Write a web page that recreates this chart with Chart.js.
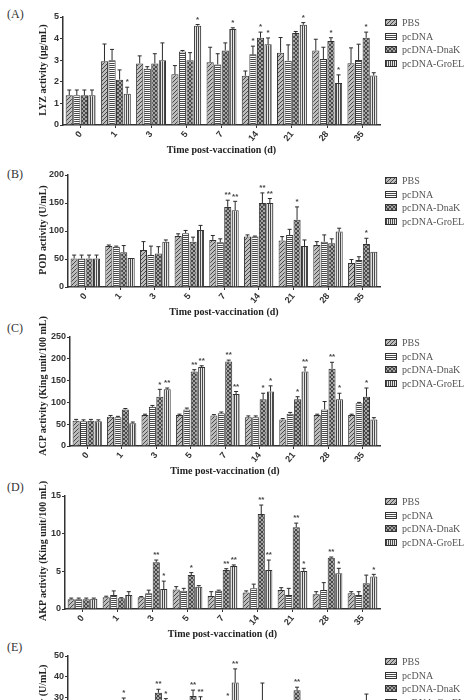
<!DOCTYPE html>
<html>
<head>
<meta charset="utf-8">
<script src="https://cdn.jsdelivr.net/npm/chart.js@4.4.1/dist/chart.umd.min.js"></script>
<style>
  html, body { margin: 0; padding: 0; background: #fff; width: 472px; height: 700px; overflow: hidden; }
  .panel { position: absolute; left: 0; width: 472px; }
  .tag { position: absolute; left: 7px; font: 12px "Liberation Serif", serif; color: #333; line-height: 14px; }
  .ytitle { position: absolute; left: 43px; white-space: nowrap; font: bold 10px "Liberation Serif", serif; color: #222;
            transform: translate(-50%, -50%) rotate(-90deg); line-height: 12px; }
</style>
</head>
<body>
<div class="tag" style="top:7px">(A)</div>
<div class="tag" style="top:167px">(B)</div>
<div class="tag" style="top:321px">(C)</div>
<div class="tag" style="top:480px">(D)</div>
<div class="tag" style="top:640px">(E)</div>

<div class="panel" style="top:7px;height:153px"><canvas id="chartA"></canvas></div>
<div class="panel" style="top:165px;height:157px"><canvas id="chartB"></canvas></div>
<div class="panel" style="top:327px;height:154px"><canvas id="chartC"></canvas></div>
<div class="panel" style="top:486px;height:158px"><canvas id="chartD"></canvas></div>
<div class="panel" style="top:646px;height:149px"><canvas id="chartE"></canvas></div>

<div class="ytitle" style="top:70px">LYZ activity (μg/mL)</div>
<div class="ytitle" style="top:230px">POD activity (U/mL)</div>
<div class="ytitle" style="top:386px">ACP activity (King unit/100 mL)</div>
<div class="ytitle" style="top:551px">AKP activity (King unit/100 mL)</div>
<div class="ytitle" style="top:709px">SOD activity (U/mL)</div>

<script>
// days after vaccination and the four groups
var days = ['0', '1', '3', '5', '7', '14', '21', '28', '35'];
var groups = ['PBS', 'pcDNA', 'pcDNA-DnaK', 'pcDNA-GroEL'];

// (A) LYZ: mean and mean+SD, rows = groups
var lyzMean = [
  [1.38, 2.95, 2.85, 2.35, 2.90, 2.28, 3.35, 3.45, 2.86],
  [1.38, 3.00, 2.60, 3.40, 2.80, 3.27, 2.98, 3.05, 3.01],
  [1.38, 2.10, 2.85, 3.00, 3.45, 4.04, 4.26, 3.89, 4.04],
  [1.38, 1.45, 3.00, 4.60, 4.45, 3.74, 4.64, 1.95, 2.29]
];
var lyzTop = [
  [1.62, 3.75, 3.20, 2.75, 3.60, 2.50, 4.05, 3.97, 3.57],
  [1.62, 3.50, 2.70, 3.45, 3.30, 3.65, 3.71, 3.60, 3.74],
  [1.62, 2.55, 3.30, 3.35, 3.80, 4.30, 4.33, 4.04, 4.30],
  [1.62, 1.75, 3.80, 4.65, 4.50, 4.03, 4.74, 2.32, 2.42]
];
var lyzSig = [
  ['', '', '', '', '', '', '', '', ''],
  ['', '', '', '', '', '*', '', '', ''],
  ['', '', '', '', '', '*', '', '*', '*'],
  ['', '*', '', '*', '*', '*', '*', '*', '']
];

// (B) POD
var podMean = [
  [51, 73, 66, 91, 84, 90, 83, 75, 43],
  [51, 72, 57, 96, 80, 90, 93, 81, 48],
  [51, 62, 60, 81, 143, 150, 120, 78, 77],
  [51, 52, 81, 102, 137, 150, 73, 99, 63]
];
var podTop = [
  [57, 75, 81, 95, 92, 93, 90, 81, 49],
  [57, 73, 73, 101, 86, 91, 103, 93, 54],
  [57, 74, 72, 89, 155, 168, 143, 86, 87],
  [57, 52, 84, 110, 153, 158, 84, 105, 63]
];
var podSig = [
  ['', '', '', '', '', '', '', '', ''],
  ['', '', '', '', '', '', '', '', ''],
  ['', '', '', '', '**', '**', '*', '', '*'],
  ['', '', '', '', '**', '**', '', '', '']
];

// (C) ACP
var acpMean = [
  [58, 67, 71, 71, 70, 66, 61, 71, 71],
  [57, 66, 90, 84, 75, 66, 74, 84, 98],
  [58, 84, 113, 171, 194, 107, 107, 177, 113],
  [57, 52, 130, 181, 119, 125, 171, 107, 61]
];
var acpTop = [
  [61, 70, 73, 73, 72, 69, 63, 73, 73],
  [60, 68, 93, 87, 78, 69, 77, 102, 100],
  [61, 86, 130, 175, 197, 121, 113, 192, 133],
  [60, 55, 133, 184, 125, 138, 181, 121, 65]
];
var acpSig = [
  ['', '', '', '', '', '', '', '', ''],
  ['', '', '', '', '', '', '', '', ''],
  ['', '', '*', '**', '**', '*', '*', '**', '*'],
  ['', '', '**', '**', '**', '*', '**', '*', '']
];

// (D) AKP
var akpMean = [
  [1.30, 1.55, 1.55, 2.60, 1.73, 2.20, 2.52, 1.95, 2.08],
  [1.30, 1.86, 2.08, 2.43, 2.43, 2.74, 1.86, 2.52, 1.86],
  [1.30, 1.42, 6.20, 4.51, 5.18, 12.6, 10.85, 6.80, 3.41],
  [1.35, 1.86, 2.65, 2.97, 5.70, 5.18, 5.05, 4.74, 4.30]
];
var akpTop = [
  [1.45, 1.70, 1.65, 2.97, 2.30, 2.40, 2.83, 2.30, 2.30],
  [1.45, 2.40, 2.50, 2.74, 2.50, 3.30, 2.74, 3.50, 2.30],
  [1.45, 1.50, 6.50, 4.83, 5.35, 13.8, 11.4, 6.90, 4.50],
  [1.45, 2.30, 3.70, 3.10, 5.85, 6.50, 5.40, 5.40, 4.60]
];
var akpSig = [
  ['', '', '', '', '', '', '', '', ''],
  ['', '', '', '', '', '', '', '', ''],
  ['', '', '**', '*', '**', '**', '**', '**', ''],
  ['', '', '*', '', '**', '**', '*', '*', '*']
];

// (E) only the upper part is visible in the figure
var sodMean = [
  [20, 21, 22, 23, 22, 21, 22, 21, 20],
  [21, 22, 23, 24, 23, 22, 22, 22, 21],
  [21, 28.8, 32.3, 30.8, 27.5, 26, 33.5, 22, 25],
  [22, 24, 28.5, 27.5, 37.2, 24, 23, 24, 23]
];
var sodTop = [
  [22, 23, 24, 25, 24, 23, 24, 23, 22],
  [23, 24, 25, 26, 25, 24, 24, 24, 23],
  [23, 29.8, 34, 33.6, 28.5, 37, 35, 24, 31.7],
  [24, 26, 29.5, 30.4, 43.8, 26, 25, 26, 25]
];
var sodSig = [
  ['', '', '', '', '', '', '', '', ''],
  ['', '', '', '', '', '', '', '', ''],
  ['', '*', '**', '**', '*', '', '**', '', ''],
  ['', '', '*', '**', '**', '', '', '', '']
];

function makePattern(kind){
  var c = document.createElement('canvas');
  c.width = 4; c.height = 4;
  var g = c.getContext('2d');
  var bg = {pbs: '#bdbdbd', pcdna: '#ffffff', dnak: '#a4a4a4', groel: '#e6e6e6'}[kind];
  g.fillStyle = bg;
  g.fillRect(0, 0, 4, 4);
  g.fillStyle = '#484848';
  for (var i = 0; i < 4; i++){
    if (kind == 'pbs') g.fillRect(i, 3 - i, 1, 1);
    if (kind == 'dnak'){ g.fillRect(i, 3 - i, 1, 1); g.fillRect(i, i, 1, 1); }
  }
  if (kind == 'pcdna'){ g.fillRect(0, 0, 4, 1); g.fillRect(0, 2, 4, 1); }
  if (kind == 'groel'){ g.fillRect(0, 0, 1, 4); g.fillRect(2, 0, 1, 4); }
  return g.createPattern(c, 'repeat');
}
var fills = [makePattern('pbs'), makePattern('pcdna'), makePattern('dnak'), makePattern('groel')];

// SD whiskers and significance marks
var errorPlugin = {
  id: 'errorStars',
  afterDatasetsDraw: function(chart){
    var ctx = chart.ctx, ys = chart.scales.y;
    ctx.save();
    ctx.strokeStyle = '#2a2a2a';
    ctx.lineWidth = 1;
    ctx.fillStyle = '#444';
    ctx.font = 'bold 8px "Liberation Sans"';
    ctx.textAlign = 'center';
    ctx.textBaseline = 'bottom';
    chart.data.datasets.forEach(function(ds, i){
      chart.getDatasetMeta(i).data.forEach(function(bar, j){
        var top = ys.getPixelForValue(ds.errTop[j]);
        if (top < bar.y - 0.5){
          ctx.beginPath();
          ctx.moveTo(bar.x, bar.y);
          ctx.lineTo(bar.x, top);
          ctx.moveTo(bar.x - 2, top);
          ctx.lineTo(bar.x + 2, top);
          ctx.stroke();
        }
        if (ds.sig[j]) ctx.fillText(ds.sig[j], bar.x, Math.min(top, bar.y) - 1);
      });
    });
    ctx.restore();
  }
};

// legend to the right of the plot
var legendPlugin = {
  id: 'sideLegend',
  afterDraw: function(chart){
    var ctx = chart.ctx, a = chart.chartArea;
    ctx.save();
    ctx.font = '10px "Liberation Serif"';
    ctx.textBaseline = 'middle';
    chart.data.datasets.forEach(function(ds, i){
      var y = Math.round(a.top + 5 + i * 13.5);
      ctx.fillStyle = ds.backgroundColor;
      ctx.fillRect(a.right + 5, y - 3, 12, 7);
      ctx.strokeStyle = '#333';
      ctx.lineWidth = 1;
      ctx.strokeRect(a.right + 5.5, y - 2.5, 11, 6);
      ctx.fillStyle = '#555';
      ctx.fillText(ds.label, a.right + 22, y + 1);
    });
    ctx.restore();
  }
};

function makePanel(id, mean, top, sig, yMax, yStep, axisLeft){
  var datasets = groups.map(function(name, i){
    return {
      label: name,
      data: mean[i],
      errTop: top[i],
      sig: sig[i],
      backgroundColor: fills[i],
      borderColor: '#333',
      borderWidth: 1,
      categoryPercentage: 0.86,
      barPercentage: 0.95
    };
  });
  new Chart(document.getElementById(id), {
    type: 'bar',
    data: { labels: days, datasets: datasets },
    options: {
      responsive: true,
      maintainAspectRatio: false,
      animation: false,
      layout: { padding: { left: 33, right: 92, top: 10, bottom: 0 } },
      plugins: { legend: { display: false }, tooltip: { enabled: false } },
      scales: {
        x: {
          grid: { display: true, drawOnChartArea: false, drawTicks: true, tickLength: 3, offset: false, color: '#333' },
          border: { display: true, color: '#333', width: 1.5 },
          ticks: { minRotation: 50, maxRotation: 50, padding: 1, color: '#333',
                   font: { family: 'Liberation Sans', weight: 'bold', size: 9 } },
          title: { display: true, text: 'Time post-vaccination (d)', color: '#222',
                   font: { family: 'Liberation Serif', weight: 'bold', size: 10 }, padding: { top: 0, bottom: 4 } },
          afterFit: function(s){ s.height = 35; }
        },
        y: {
          min: 0, max: yMax,
          grid: { display: true, drawOnChartArea: false, drawTicks: true, tickLength: 3, color: '#333' },
          border: { display: true, color: '#333', width: 1.5 },
          ticks: { stepSize: yStep, padding: 1, color: '#333',
                   font: { family: 'Liberation Sans', weight: 'bold', size: 9 } },
          afterFit: function(s){ s.width = axisLeft - 33; }
        }
      }
    },
    plugins: [errorPlugin, legendPlugin]
  });
}

makePanel('chartA', lyzMean, lyzTop, lyzSig, 5, 1, 63);
makePanel('chartB', podMean, podTop, podSig, 200, 50, 68);
makePanel('chartC', acpMean, acpTop, acpSig, 250, 50, 70);
makePanel('chartD', akpMean, akpTop, akpSig, 15, 5, 65);
makePanel('chartE', sodMean, sodTop, sodSig, 50, 10, 68);
</script>
</body>
</html>
